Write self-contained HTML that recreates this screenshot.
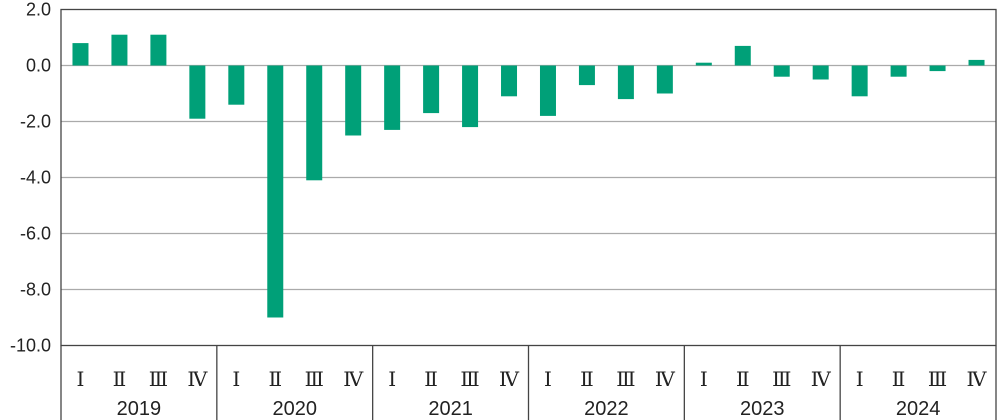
<!DOCTYPE html>
<html><head><meta charset="utf-8"><style>
html,body{margin:0;padding:0;background:#fff;width:1000px;height:420px;overflow:hidden}
svg text{font-family:"Liberation Sans",sans-serif;fill:#222}
</style></head><body>
<svg id="chart" width="1000" height="420" viewBox="0 0 1000 420"></svg>
<script>
const years = ["2019","2020","2021","2022","2023","2024"];
const quarters = ["Ⅰ","Ⅱ","Ⅲ","Ⅳ"];
const values = [0.8,1.1,1.1,-1.9, -1.4,-9.0,-4.1,-2.5, -2.3,-1.7,-2.2,-1.1, -1.8,-0.7,-1.2,-1.0, 0.1,0.7,-0.4,-0.5, -1.1,-0.4,-0.2,0.2];
const yTicks = [2,0,-2,-4,-6,-8,-10];
const yTickLabels = ["2.0","0.0","-2.0","-4.0","-6.0","-8.0","-10.0"];

const NS="http://www.w3.org/2000/svg";
const svg=document.getElementById('chart');
const L=61,R=996,T=9.5,B=345.5,yMax=2,yMin=-10;
const y=v=>T+(yMax-v)/(yMax-yMin)*(B-T);
const n=values.length, slot=(R-L)/n;
const x=i=>L+slot*(i+0.5);
function mk(tag,a){const e=document.createElementNS(NS,tag);for(const k in a)e.setAttribute(k,a[k]);svg.appendChild(e);return e;}

yTicks.forEach((t,i)=>{
  if(t!==yMax&&t!==yMin){const g=mk('line',{x1:L,x2:R,y1:y(t),y2:y(t),stroke:'#aaa','stroke-width':1.2});
  
  }
  const tx=mk('text',{x:51,y:y(t)+6,'text-anchor':'end','font-size':18});
  tx.textContent=yTickLabels[i];
  
  
});
values.forEach((v,i)=>{
  const r=mk('rect',{x:x(i)-8,width:16,y:Math.min(y(v),y(0)),height:Math.abs(y(v)-y(0)),fill:'#00a078'});
  
  
  const q=mk('text',{x:x(i),y:386,'text-anchor':'middle','font-size':20,style:'font-family:"DejaVu Serif","Liberation Serif",serif'});
  q.textContent=quarters[i%4];
  
  
});
years.forEach((yr,j)=>{
  const t=mk('text',{x:L+slot*(j*4+2),y:415,'text-anchor':'middle','font-size':20});
  t.textContent=yr;
  
  
  if(j>0){const s=mk('line',{x1:L+slot*j*4,x2:L+slot*j*4,y1:B,y2:420,stroke:'#444','stroke-width':1.3});
  
  }
});
const f=mk('rect',{x:L,y:T,width:R-L,height:B-T,fill:'none',stroke:'#444','stroke-width':1.3});


const la=mk('line',{x1:L,x2:L,y1:B,y2:420,stroke:'#444','stroke-width':1.3});


const ra=mk('line',{x1:R,x2:R,y1:B,y2:420,stroke:'#444','stroke-width':1.3});


</script>
</body></html>
